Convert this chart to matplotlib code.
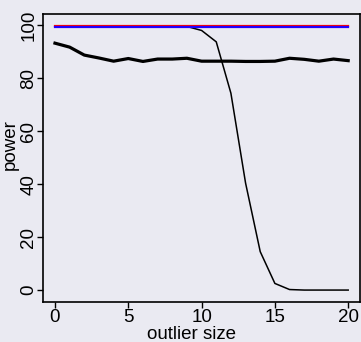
import matplotlib
matplotlib.use("Agg")
import matplotlib.pyplot as plt

x = list(range(21))
red = [99.7] * 21
blue = [99.3] * 21
thick = [93.2, 91.7, 88.7, 87.6, 86.4, 87.4, 86.3, 87.2, 87.2, 87.5, 86.4,
         86.4, 86.4, 86.3, 86.3, 86.4, 87.5, 87.1, 86.4, 87.2, 86.6]
thin = [99.5, 99.5, 99.5, 99.5, 99.5, 99.5, 99.5, 99.5, 99.5, 99.5, 98.0,
        93.7, 74.3, 40.4, 14.5, 2.5, 0.2, 0.0, 0.0, 0.0, 0.0]
xticks = [0, 5, 10, 15, 20]
yticks = [0, 20, 40, 60, 80, 100]

bg = "#EAEAF2"
plt.rcParams['font.family'] = ['Liberation Sans', 'DejaVu Sans']
fig = plt.figure(figsize=(3.61, 3.42), dpi=100, facecolor=bg)
ax = fig.add_axes([0.119, 0.117, 0.878, 0.842], facecolor=bg)

ax.plot(x, thin, color="black", lw=1.1)
ax.plot(x, thick, color="black", lw=2.3)
ax.plot(x, red, color="#FF0000", lw=1.6)
ax.plot(x, blue, color="#2200FF", lw=1.6)

ax.set_xlim(-0.82, 20.8)
ax.set_ylim(-4.5, 104.2)
ax.set_xticks(xticks)
ax.set_yticks(yticks)
ax.set_xticklabels([str(v) for v in xticks], fontsize=13.5)
ax.set_yticklabels([str(v) for v in yticks], fontsize=13.5, rotation=90, va="center")
ax.tick_params(direction="out", length=4, width=1, pad=1)
ax.tick_params(axis="y", pad=0)
for s in ax.spines.values():
    s.set_color("black")
    s.set_linewidth(1.2)
ax.set_xlabel("outlier size", fontsize=13.5)
ax.xaxis.set_label_coords(0.47, -0.113)
ax.xaxis.label.set_va("center")
ax.set_ylabel("power", fontsize=13.5)
ax.yaxis.set_label_coords(-0.103, 0.545)
ax.yaxis.label.set_va("center")

fig.savefig("out.png", dpi=100, facecolor=bg)
